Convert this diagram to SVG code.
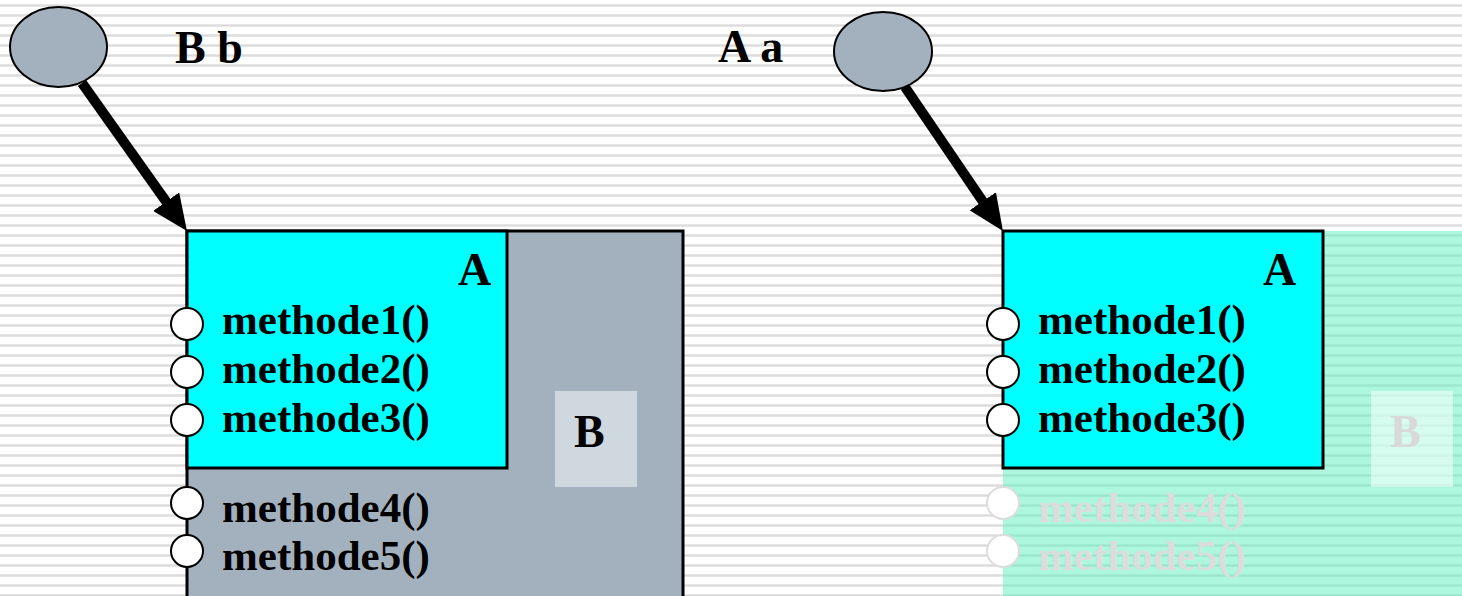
<svg xmlns="http://www.w3.org/2000/svg" width="1462" height="596" viewBox="0 0 1462 596">
  <defs>
    <pattern id="stripes" x="0" y="0" width="20" height="10" patternUnits="userSpaceOnUse">
      <rect x="0" y="0" width="20" height="10" fill="#ffffff"/>
      <rect x="0" y="4" width="20" height="3" fill="#e6e6e6"/>
      <rect x="0" y="5" width="20" height="1" fill="#dcdcdc"/>
    </pattern>
    <marker id="head" markerUnits="userSpaceOnUse" viewBox="0 0 36 32" refX="16" refY="16" markerWidth="36" markerHeight="32" orient="auto">
      <path d="M0,0 L36,16 L0,32 Z" fill="#000"/>
    </marker>
    <style>
      .t { font-family: "Liberation Serif", "Times New Roman", serif; font-weight: bold; }
      .big { font-size: 46px; fill: #000; }
      .m { font-size: 43px; fill: #000; }
      .mf { font-size: 43px; fill: #dcdcdc; }
      .port { fill: #ffffff; stroke: #000; stroke-width: 2; }
      .portf { fill: #ffffff; stroke: #dddddd; stroke-width: 2; }
      .ref { fill: #a3b1bf; stroke: #000; stroke-width: 2; }
      .edge { stroke: #000; stroke-width: 10; fill: none; marker-end: url(#head); }
    </style>
  </defs>

  <rect x="0" y="0" width="1462" height="596" fill="url(#stripes)"/>

  <!-- left: reference b of type B pointing to a B object -->
  <g id="ref-b">
    <ellipse class="ref" cx="58.5" cy="47" rx="48.5" ry="40"/>
    <text class="t big" x="175" y="63">B b</text>
  </g>

  <g id="obj-B-left">
    <rect x="187" y="231" width="496" height="380" fill="#a3b1bf" stroke="#000" stroke-width="3"/>
    <rect x="555" y="391" width="82" height="96" fill="#d0d8df"/>
    <text class="t big" x="574" y="447">B</text>
    <circle class="port" cx="187" cy="503" r="16"/>
    <circle class="port" cx="187" cy="551" r="16"/>
    <text class="t m" x="222" y="522">methode4()</text>
    <text class="t m" x="222" y="570">methode5()</text>
  </g>

  <g id="obj-A-left">
    <rect x="187" y="231" width="320" height="237" fill="#00ffff" stroke="#000" stroke-width="3"/>
    <text class="t big" x="458" y="285">A</text>
    <circle class="port" cx="187" cy="324" r="16"/>
    <circle class="port" cx="187" cy="372" r="16"/>
    <circle class="port" cx="187" cy="420" r="16"/>
    <text class="t m" x="222" y="334">methode1()</text>
    <text class="t m" x="222" y="383">methode2()</text>
    <text class="t m" x="222" y="432">methode3()</text>
  </g>

  <!-- right: reference a of type A pointing to a B object -->
  <g id="ref-a">
    <ellipse class="ref" cx="883" cy="51.5" rx="49" ry="39.5"/>
    <text class="t big" x="718" y="62">A a</text>
  </g>

  <g id="obj-B-right">
    <rect x="1003" y="231" width="470" height="380" fill="#5cf0c0" fill-opacity="0.5"/>
    <rect x="1371" y="391" width="82" height="96" fill="#ffffff" fill-opacity="0.5"/>
    <text class="t big" x="1390" y="447" style="fill:#d9d9d9">B</text>
    <circle class="portf" cx="1003" cy="503" r="16"/>
    <circle class="portf" cx="1003" cy="551" r="16"/>
    <text class="t mf" x="1038" y="522">methode4()</text>
    <text class="t mf" x="1038" y="570">methode5()</text>
  </g>

  <g id="obj-A-right">
    <rect x="1003" y="231" width="320" height="237" fill="#00ffff" stroke="#000" stroke-width="3"/>
    <text class="t big" x="1263" y="285">A</text>
    <circle class="port" cx="1003" cy="324" r="16"/>
    <circle class="port" cx="1003" cy="372" r="16"/>
    <circle class="port" cx="1003" cy="420" r="16"/>
    <text class="t m" x="1038" y="334">methode1()</text>
    <text class="t m" x="1038" y="383">methode2()</text>
    <text class="t m" x="1038" y="432">methode3()</text>
  </g>

  <g id="connectors">
    <line class="edge" x1="82" y1="83" x2="175.4" y2="214.7"/>
    <line class="edge" x1="905" y1="87" x2="991.7" y2="214.5"/>
  </g>
</svg>
